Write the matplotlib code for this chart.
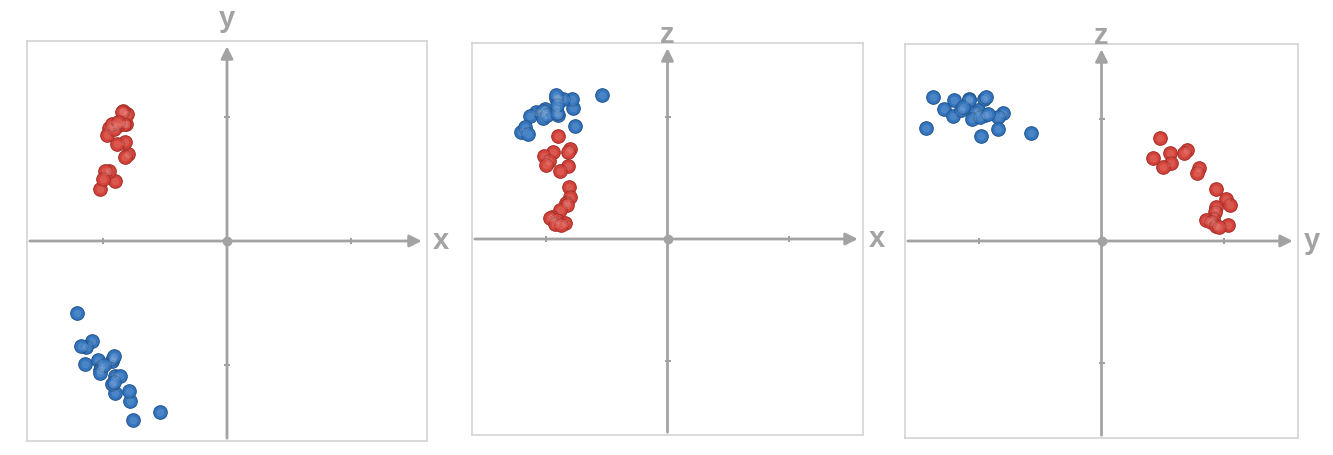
import matplotlib
matplotlib.use("Agg")
import matplotlib.pyplot as plt

# red cluster (x, y, z)
red_x = [-0.90, -0.80, -0.82, -0.946, -1.02, -0.98, -1.00, -0.82, -0.883, -0.815,
         -0.801, -0.836, -0.828, -0.883, -0.951, -0.965, -0.91, -0.842, -0.924, -0.88]
red_y = [0.48, 0.70, 0.675, 0.56, 0.42, 0.566, 0.50, 0.80, 0.78, 0.94,
         1.02, 1.05, 0.94, 0.927, 0.913, 0.854, 0.90, 1.04, 0.94, 0.96]
red_z = [0.843, 0.74, 0.718, 0.718, 0.68, 0.637, 0.607, 0.599, 0.555, 0.429,
         0.347, 0.293, 0.279, 0.238, 0.183, 0.170, 0.156, 0.129, 0.123, 0.116]

# blue cluster (x, y, z)
blue_x = [-0.54, -1.21, -0.76, -0.78, -0.785, -0.90, -1.083, -1.132, -1.172, -1.145, -0.922,
          -0.903, -0.863, -0.922, -0.917, -1.038, -1.011, -1.024, -1.024, -0.992, -0.910, -0.910]
blue_y = [-1.38, -0.58, -1.44, -1.29, -1.21, -1.22, -0.804, -0.852, -0.847, -0.987, -1.148,
          -1.089, -1.089, -0.965, -0.943, -0.954, -1.013, -1.040, -1.062, -0.998, -0.929, -1.133]
blue_z = [1.18, 0.88, 0.925, 1.08, 1.15, 1.02, 1.043, 1.011, 0.916, 0.86, 1.071,
          1.16, 1.153, 1.16, 1.18, 1.033, 1.071, 1.05, 0.997, 1.016, 1.038, 1.098]

red = "#d4433a"
red_dark = "#a8302a"
blue = "#3475bf"
blue_dark = "#25588f"
axis_gray = "#a3a3a3"

panels = [
    # (horizontal key, vertical key, box in pixels, lift of top label in points)
    ("x", "y", [27, 41, 400, 400], 10),
    ("x", "z", [472, 43, 391, 392], 0),
    ("y", "z", [905, 44, 393, 394], 0),
]
data = {
    "red": {"x": red_x, "y": red_y, "z": red_z},
    "blue": {"x": blue_x, "y": blue_y, "z": blue_z},
}

W, H = 1333, 455
fig = plt.figure(figsize=(W / 100, H / 100), dpi=100)
lim = 1.61
lab = dict(fontsize=21, color=axis_gray, family="Liberation Sans", fontweight="bold")

for hk, vk, (px, py, pw, ph), lift in panels:
    ax = fig.add_axes([px / W, 1 - (py + ph) / H, pw / W, ph / H])
    ax.set_xlim(-lim, lim)
    ax.set_ylim(-lim, lim)
    ax.set_xticks([])
    ax.set_yticks([])
    for s in ax.spines.values():
        s.set_color("#d3d3d3")
        s.set_linewidth(1.2)

    # axes with arrows
    ax.annotate("", xy=(lim - 0.02, 0), xytext=(-lim, 0),
                arrowprops=dict(arrowstyle="-|>", color=axis_gray, lw=2, mutation_scale=18))
    ax.annotate("", xy=(0, lim - 0.02), xytext=(0, -lim),
                arrowprops=dict(arrowstyle="-|>", color=axis_gray, lw=2, mutation_scale=18))
    ax.plot([0], [0], "o", color=axis_gray, ms=6)
    ax.plot([-1, 1], [0, 0], "|", color="#8c8c8c", ms=4, mew=1.2)
    ax.plot([0, 0], [-1, 1], "_", color="#8c8c8c", ms=4, mew=1.2)

    ax.annotate(hk, xy=(1, 0.5), xycoords="axes fraction", xytext=(4, 0),
                textcoords="offset points", ha="left", va="center", **lab)
    ax.annotate(vk, xy=(0.5, 1), xycoords="axes fraction", xytext=(0, lift),
                textcoords="offset points", ha="center", va="baseline", **lab)

    for name, c, cd in [("blue", blue, blue_dark), ("red", red, red_dark)]:
        d = data[name]
        ax.scatter(d[hk], d[vk], s=95, color=c, edgecolors=cd, linewidths=0.8, zorder=3)
        ax.scatter(d[hk], d[vk], s=30, color="white", alpha=0.12, linewidths=0, zorder=4)

fig.savefig("out.png", dpi=100)
